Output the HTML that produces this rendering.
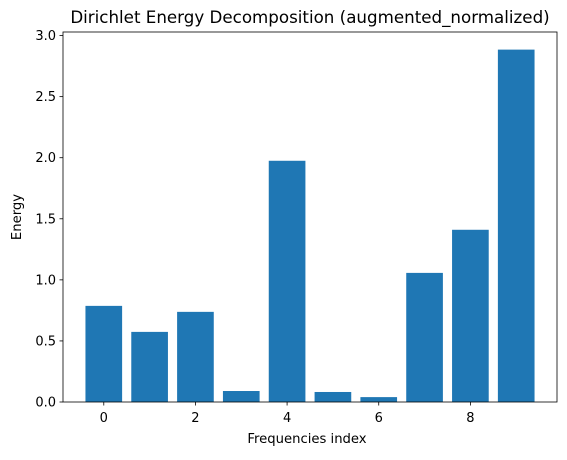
<!DOCTYPE html>
<html><head><meta charset="utf-8"><style>
body{margin:0;background:#fff;}
svg text{font-family:"DejaVu Sans","Liberation Sans",sans-serif;fill:#000;}
</style></head><body>
<svg id="chart" width="567" height="455" xmlns="http://www.w3.org/2000/svg">
<text x="310" y="23" text-anchor="middle" font-size="16.7">Dirichlet Energy Decomposition (augmented_normalized)</text>
<text x="307" y="443" text-anchor="middle" font-size="13.2">Frequencies index</text>
<text transform="translate(21,217) rotate(-90)" text-anchor="middle" font-size="13.2">Energy</text>
<g id="bars"></g><g id="axes"></g>
</svg>
<script>
const categories=[0,1,2,3,4,5,6,7,8,9];
const energyValues=[0.787,0.574,0.738,0.09,1.975,0.082,0.04,1.057,1.41,2.885];
const yTicks=[0,0.5,1.0,1.5,2.0,2.5,3.0];
const yTickLabels=["0.0","0.5","1.0","1.5","2.0","2.5","3.0"];
const xTicks=[0,2,4,6,8];
const NS="http://www.w3.org/2000/svg";
const L=63,R=557,T=32,B=402;
const xmin=-0.89,xmax=9.89;
const ymax=Math.max(...energyValues)*1.05;
const xs=v=>L+(v-xmin)/(xmax-xmin)*(R-L);
const ys=v=>B-v/ymax*(B-T);
function mk(t,a,p){const e=document.createElementNS(NS,t);for(const k in a)e.setAttribute(k,a[k]);p.appendChild(e);return e;}
const bars=document.getElementById('bars'),axes=document.getElementById('axes');
categories.forEach((c,i)=>{
 const x0=xs(c-0.4),x1=xs(c+0.4),y=ys(energyValues[i]);
 const r=mk('rect',{x:x0,y:y,width:x1-x0,height:B-y,fill:'#1f77b4'},bars);
 
 
});
const fr=mk('rect',{x:L,y:T,width:R-L,height:B-T,fill:'none',stroke:'#000','stroke-width':0.8},axes);


yTicks.forEach((v,i)=>{
 const y=ys(v);
 mk('line',{x1:L-3.5,x2:L,y1:y,y2:y,stroke:'#000','stroke-width':0.8},axes);
 const t=mk('text',{x:L-7,y:y+4.5,'text-anchor':'end','font-size':13},axes);
 t.textContent=yTickLabels[i];
 
 
});
xTicks.forEach(v=>{
 const x=xs(v);
 mk('line',{x1:x,x2:x,y1:B,y2:B+3.5,stroke:'#000','stroke-width':0.8},axes);
 const t=mk('text',{x:x,y:B+20,'text-anchor':'middle','font-size':13},axes);
 t.textContent=String(v);
 
 
});
</script>
</body></html>
